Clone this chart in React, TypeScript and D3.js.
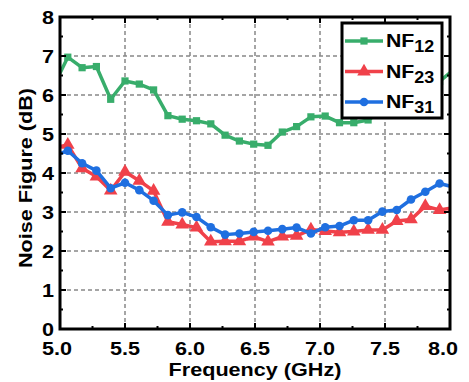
import { useEffect, useRef } from "react";
import * as d3 from "d3";

// frequency points (GHz), first and last fall just outside the axis range
const freq = [4.95, 5.06, 5.17, 5.28, 5.39, 5.5, 5.61, 5.72, 5.83, 5.94, 6.05, 6.16, 6.27, 6.38, 6.49,
  6.6, 6.71, 6.82, 6.93, 7.04, 7.15, 7.26, 7.37, 7.48, 7.59, 7.7, 7.81, 7.92, 8.03];

const nf12 = [6.22, 6.97, 6.7, 6.73, 5.89, 6.36, 6.28, 6.13, 5.47, 5.38, 5.34, 5.26, 4.97, 4.82, 4.74,
  4.71, 5.05, 5.19, 5.44, 5.46, 5.29, 5.29, 5.36, 5.6, 5.8, 6.0, 6.15, 6.35, 6.65];
const nf23 = [4.65, 4.72, 4.12, 3.91, 3.55, 4.03, 3.8, 3.54, 2.75, 2.68, 2.6, 2.24, 2.25, 2.25, 2.37,
  2.24, 2.37, 2.39, 2.55, 2.51, 2.48, 2.5, 2.54, 2.54, 2.77, 2.81, 3.15, 3.05, 3.11];
const nf31 = [4.44, 4.57, 4.25, 4.06, 3.61, 3.75, 3.56, 3.29, 2.92, 2.99, 2.87, 2.61, 2.42, 2.45, 2.49,
  2.52, 2.56, 2.6, 2.45, 2.61, 2.64, 2.79, 2.79, 3.01, 3.05, 3.32, 3.52, 3.73, 3.64];

const xTicks = [5.0, 5.5, 6.0, 6.5, 7.0, 7.5, 8.0];
const yTicks = [0, 1, 2, 3, 4, 5, 6, 7, 8];

const seriesNames = ["12", "23", "31"];
const seriesColors = ["#38ad6b", "#f0414a", "#1f6fe0"];
const seriesMarkers = ["square", "triangle", "circle"];

function markerPath(kind: string) {
  const sym = kind === "square" ? d3.symbolSquare : kind === "triangle" ? d3.symbolTriangle : d3.symbolCircle;
  const size = kind === "square" ? 52 : kind === "triangle" ? 80 : 58;
  return d3.symbol(sym, size)();
}

export default function App() {
  const ref = useRef<HTMLDivElement>(null);

  useEffect(() => {
    const width = 469;
    const height = 382;
    const margin = { top: 17, right: 19, bottom: 53, left: 60 };
    const font = "'Liberation Sans', Arial, sans-serif";
    const sx = 1.2; // the original lettering is a bit wide

    const x = d3.scaleLinear([5, 8], [margin.left, width - margin.right]);
    const y = d3.scaleLinear([0, 8], [height - margin.bottom, margin.top]);

    const svg = d3.select(ref.current)
      .append("svg")
      .attr("width", width)
      .attr("height", height)
      .style("display", "block");

    svg.append("rect").attr("width", width).attr("height", height).attr("fill", "white");

    svg.append("defs").append("clipPath").attr("id", "plotclip")
      .append("rect")
      .attr("x", margin.left).attr("y", margin.top)
      .attr("width", x(8) - x(5)).attr("height", y(0) - y(8));

    //grid
    const grid = svg.append("g")
      .attr("stroke", "#888")
      .attr("stroke-width", 1.5)
      .attr("stroke-dasharray", "4,3");
    grid.selectAll(".gx").data(xTicks.slice(1, -1)).join("line")
      .attr("x1", d => x(d)).attr("x2", d => x(d))
      .attr("y1", y(0)).attr("y2", y(8));
    grid.selectAll(".gy").data(yTicks.slice(1, -1)).join("line")
      .attr("y1", d => y(d)).attr("y2", d => y(d))
      .attr("x1", x(5)).attr("x2", x(8));

    //data
    const plot = svg.append("g").attr("clip-path", "url(#plotclip)");
    [nf12, nf23, nf31].forEach((vals, si) => {
      const pts = freq.map((f, i) => [f, vals[i]] as [number, number]);
      const line = d3.line<[number, number]>().x(d => x(d[0])).y(d => y(d[1]));
      plot.append("path")
        .datum(pts)
        .attr("fill", "none")
        .attr("stroke", seriesColors[si])
        .attr("stroke-width", 3.5)
        .attr("stroke-linejoin", "round")
        .attr("d", line);
      plot.selectAll(null).data(pts).join("path")
        .attr("transform", d => `translate(${x(d[0])},${y(d[1])})`)
        .attr("d", markerPath(seriesMarkers[si]))
        .attr("fill", seriesColors[si]);
    });

    //ticks (inward on all four sides)
    const ticks = svg.append("g").attr("stroke", "black").attr("stroke-width", 2);
    const xMinor = d3.range(5.25, 8, 0.5);
    const yMinor = d3.range(0.5, 8, 1);
    xTicks.forEach(t => {
      ticks.append("line").attr("x1", x(t)).attr("x2", x(t)).attr("y1", y(0)).attr("y2", y(0) - 6);
      ticks.append("line").attr("x1", x(t)).attr("x2", x(t)).attr("y1", y(8)).attr("y2", y(8) + 6);
    });
    xMinor.forEach(t => {
      ticks.append("line").attr("x1", x(t)).attr("x2", x(t)).attr("y1", y(0)).attr("y2", y(0) - 3);
      ticks.append("line").attr("x1", x(t)).attr("x2", x(t)).attr("y1", y(8)).attr("y2", y(8) + 3);
    });
    yTicks.forEach(t => {
      ticks.append("line").attr("y1", y(t)).attr("y2", y(t)).attr("x1", x(5)).attr("x2", x(5) + 6);
      ticks.append("line").attr("y1", y(t)).attr("y2", y(t)).attr("x1", x(8)).attr("x2", x(8) - 6);
    });
    yMinor.forEach(t => {
      ticks.append("line").attr("y1", y(t)).attr("y2", y(t)).attr("x1", x(5)).attr("x2", x(5) + 3);
      ticks.append("line").attr("y1", y(t)).attr("y2", y(t)).attr("x1", x(8)).attr("x2", x(8) - 3);
    });

    //frame
    svg.append("rect")
      .attr("x", x(5)).attr("y", y(8))
      .attr("width", x(8) - x(5)).attr("height", y(0) - y(8))
      .attr("fill", "none").attr("stroke", "black").attr("stroke-width", 3);

    //tick labels
    svg.append("g").selectAll("text").data(xTicks).join("text")
      .attr("transform", (d, i) => {
        const px = x(d) + (i === 0 ? -3 : i === xTicks.length - 1 ? -7 : 0);
        return `translate(${px},355) scale(${sx},1)`;
      })
      .attr("text-anchor", "middle")
      .attr("font-family", font).attr("font-weight", "bold").attr("font-size", 18)
      .text(d => d.toFixed(1));
    svg.append("g").selectAll("text").data(yTicks).join("text")
      .attr("transform", d => `translate(54,${y(d) + 6.5}) scale(${sx},1)`)
      .attr("text-anchor", "end")
      .attr("font-family", font).attr("font-weight", "bold").attr("font-size", 18)
      .text(d => String(d));

    //axis titles
    svg.append("text")
      .attr("transform", `translate(${(x(5) + x(8)) / 2},376) scale(${sx},1)`)
      .attr("text-anchor", "middle")
      .attr("font-family", font).attr("font-weight", "bold").attr("font-size", 18)
      .text("Frequency (GHz)");
    svg.append("text")
      .attr("transform", `translate(32,178) rotate(-90) scale(${sx},1)`)
      .attr("text-anchor", "middle")
      .attr("font-family", font).attr("font-weight", "bold").attr("font-size", 18)
      .text("Noise Figure (dB)");

    //legend
    const lg = svg.append("g").attr("transform", "translate(342,23)");
    lg.append("rect").attr("width", 100).attr("height", 95)
      .attr("fill", "white").attr("stroke", "black").attr("stroke-width", 3);
    seriesNames.forEach((name, i) => {
      const cy = 18 + i * 30.5;
      lg.append("line").attr("x1", 3).attr("x2", 41).attr("y1", cy).attr("y2", cy)
        .attr("stroke", seriesColors[i]).attr("stroke-width", 3.5);
      lg.append("path").attr("transform", `translate(22,${cy})`)
        .attr("d", markerPath(seriesMarkers[i])).attr("fill", seriesColors[i]);
      const t = lg.append("text")
        .attr("transform", `translate(44,${cy + 6}) scale(1.12,1)`)
        .attr("font-family", font).attr("font-weight", "bold").attr("font-size", 19);
      t.append("tspan").text("NF");
      t.append("tspan").attr("font-size", 16).attr("dy", 5).text(name);
    });

    return () => {
      d3.select(ref.current).selectAll("*").remove();
    };
  }, []);

  return <div ref={ref} style={{ position: "absolute", left: 0, top: 0 }} />;
}
